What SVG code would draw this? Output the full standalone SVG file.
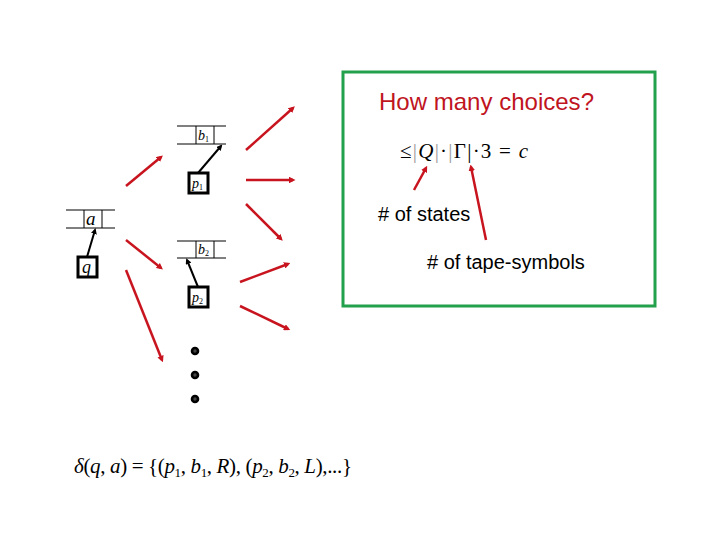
<svg xmlns="http://www.w3.org/2000/svg" width="720" height="540" viewBox="0 0 720 540">
<style>
.tape{stroke:#000;stroke-width:1;fill:none}
.head{fill:#fff;stroke:#000;stroke-width:3}
.ptr{stroke:#000;stroke-width:2}
.arr{stroke:#c8141e;stroke-width:2.5;fill:none;marker-end:url(#ah)}
.m{font-family:"Liberation Serif",serif;font-style:italic;fill:#000}
.mr{font-family:"Liberation Serif",serif;fill:#000}
.s{font-family:"Liberation Sans",Arial,sans-serif}
.dot{fill:#444;stroke:#000;stroke-width:2.6}
</style>
<defs>
<marker id="ah" markerWidth="2.6" markerHeight="2.6" refX="1.6" refY="1.3" orient="auto" markerUnits="strokeWidth"><path d="M0,0 L2.6,1.3 L0,2.6 z" fill="#c8141e"/></marker>
<marker id="bh" markerWidth="3" markerHeight="3" refX="2" refY="1.5" orient="auto" markerUnits="strokeWidth"><path d="M0,0 L3,1.5 L0,3 z" fill="#000"/></marker>
</defs>
<rect width="720" height="540" fill="#fff"/>

<g id="tape-a">
<line class="tape" x1="66" y1="210" x2="115" y2="210"/>
<line class="tape" x1="66" y1="228" x2="115" y2="228"/>
<line class="tape" x1="84" y1="210" x2="84" y2="228"/>
<line class="tape" x1="102" y1="210" x2="102" y2="228"/>
<text class="m" x="86" y="225" font-size="19">a</text>
</g>
<g id="head-q">
<rect class="head" x="78" y="257" width="19" height="20"/>
<text class="m" x="82" y="273" font-size="18">q</text>
<line class="ptr" x1="87" y1="257" x2="95" y2="230" marker-end="url(#bh)"/>
</g>

<g id="tape-b1">
<line class="tape" x1="177" y1="126" x2="226" y2="126"/>
<line class="tape" x1="177" y1="144" x2="226" y2="144"/>
<line class="tape" x1="196" y1="126" x2="196" y2="144"/>
<line class="tape" x1="214" y1="126" x2="214" y2="144"/>
<text class="m" x="198" y="140" font-size="14">b<tspan font-size="8" font-style="normal" dy="2">1</tspan></text>
</g>
<g id="head-p1">
<rect class="head" x="189" y="173" width="19" height="20"/>
<text class="m" x="192" y="188" font-size="14">p<tspan font-size="8" font-style="normal" dy="2">1</tspan></text>
<line class="ptr" x1="198" y1="173" x2="221" y2="146" marker-end="url(#bh)"/>
</g>

<g id="tape-b2">
<line class="tape" x1="177" y1="241" x2="226" y2="241"/>
<line class="tape" x1="177" y1="258" x2="226" y2="258"/>
<line class="tape" x1="196" y1="241" x2="196" y2="258"/>
<line class="tape" x1="214" y1="241" x2="214" y2="258"/>
<text class="m" x="198" y="254" font-size="14">b<tspan font-size="8" font-style="normal" dy="2">2</tspan></text>
</g>
<g id="head-p2">
<rect class="head" x="189" y="287" width="19" height="20"/>
<text class="m" x="192" y="302" font-size="14">p<tspan font-size="8" font-style="normal" dy="2">2</tspan></text>
<line class="ptr" x1="198" y1="287" x2="187" y2="260" marker-end="url(#bh)"/>
</g>

<g id="dots">
<circle class="dot" cx="195" cy="351" r="3"/>
<circle class="dot" cx="195" cy="375" r="3"/>
<circle class="dot" cx="195" cy="399" r="3"/>
</g>

<g id="connectors">
<line class="arr" x1="126" y1="186" x2="161" y2="157"/>
<line class="arr" x1="126" y1="240" x2="161" y2="268"/>
<line class="arr" x1="126" y1="270" x2="162" y2="360"/>
<line class="arr" x1="246" y1="150" x2="293" y2="108"/>
<line class="arr" x1="246" y1="180" x2="293" y2="180"/>
<line class="arr" x1="246" y1="204" x2="281" y2="239"/>
<line class="arr" x1="240" y1="282" x2="288" y2="264"/>
<line class="arr" x1="240" y1="306" x2="288" y2="329"/>
<line class="arr" x1="414" y1="190" x2="426" y2="168"/>
<line class="arr" x1="486" y1="240" x2="471" y2="167"/>
</g>

<g id="choices-box">
<rect x="343" y="72" width="312" height="234" fill="none" stroke="#22a04b" stroke-width="3"/>
<text class="s" x="379" y="110" font-size="24" fill="#c0141e" textLength="215" lengthAdjust="spacingAndGlyphs">How many choices?</text>
<text class="mr" x="400" y="158" font-size="21" textLength="128">≤<tspan fill="#999">|</tspan><tspan font-style="italic">Q</tspan><tspan fill="#999">|</tspan>·<tspan fill="#999">|</tspan>Γ|·3 = <tspan font-style="italic">c</tspan></text>
<text class="s" x="378" y="221" font-size="20" fill="#000"># of states</text>
<text class="s" x="427" y="269" font-size="20" fill="#000"># of tape-symbols</text>
</g>

<g id="formula">
<text class="mr" x="74" y="473" font-size="21" textLength="278"><tspan font-style="italic">δ</tspan>(<tspan font-style="italic">q</tspan>, <tspan font-style="italic">a</tspan>) = {(<tspan font-style="italic">p</tspan><tspan font-size="13" dy="4">1</tspan><tspan dy="-4">, </tspan><tspan font-style="italic">b</tspan><tspan font-size="13" dy="4">1</tspan><tspan dy="-4">, </tspan><tspan font-style="italic">R</tspan>), (<tspan font-style="italic">p</tspan><tspan font-size="13" dy="4">2</tspan><tspan dy="-4">, </tspan><tspan font-style="italic">b</tspan><tspan font-size="13" dy="4">2</tspan><tspan dy="-4">, </tspan><tspan font-style="italic">L</tspan>),...}</text>
</g>
</svg>
